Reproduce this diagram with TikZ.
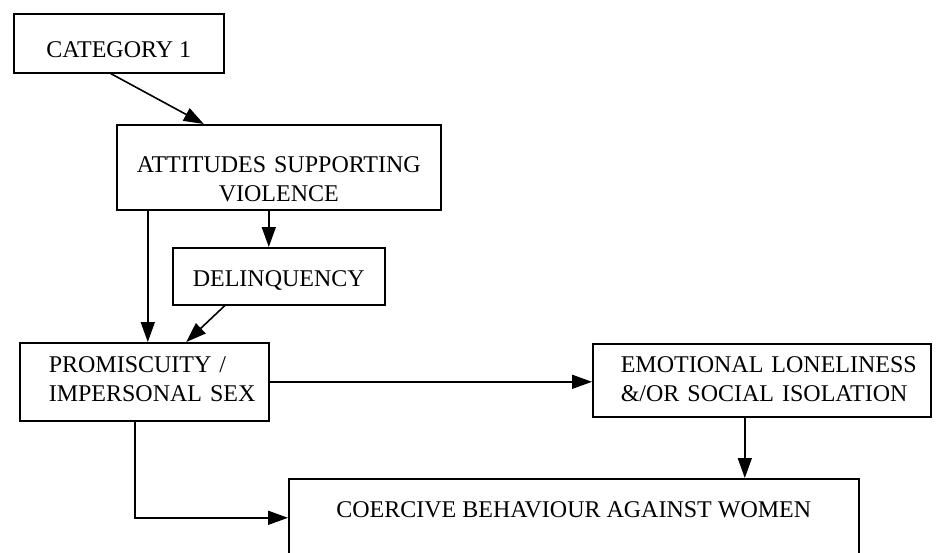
\documentclass[tikz,border=0pt]{standalone}
\usepackage{fontspec}
\setmainfont{Liberation Serif}
\usetikzlibrary{arrows.meta}

\begin{document}
\begin{tikzpicture}[x=1pt, y=-1pt, >={Triangle[length=20pt,width=14pt]},
    box/.style={draw, line width=1.6pt, anchor=north west, inner ysep=0pt,
                font=\fontsize{24}{29}\selectfont},
    link/.style={->, line width=1.6pt}]
    \clip (0,0) rectangle (944,552);

    \node[box, minimum width=210pt, text height=44pt, text depth=15pt] (cat) at (13,13) {CATEGORY 1};
    \node[box, minimum width=324pt, text width=300pt, align=center, text height=48pt, text depth=37pt]
        (att) at (116,124) {\mbox{ATTITUDES SUPPORTING}\\ VIOLENCE};
    \node[box, minimum width=212pt, text height=39pt, text depth=18pt] (del) at (172,247) {DELINQUENCY};
    \node[box, minimum width=249pt, text width=191pt, align=left, text height=30pt, text depth=48pt]
        (prom) at (19,342) {\mbox{PROMISCUITY /}\\ \mbox{IMPERSONAL SEX}};
    \node[box, minimum width=338pt, text width=282pt, align=left, text height=29pt, text depth=44pt]
        (emo) at (592,343) {\mbox{EMOTIONAL LONELINESS}\\ \mbox{\&/OR SOCIAL ISOLATION}};
    \node[box, minimum width=570pt, text height=39pt, text depth=100pt] (coe) at (288,478)
        {COERCIVE BEHAVIOUR AGAINST WOMEN};

    \draw[link] ([xshift=-8pt]cat.south) -- ([xshift=-75pt]att.north);
    \draw[link] ([xshift=-131pt]att.south) -- ([xshift=-131pt]att.south |- prom.north);
    \draw[link] ([xshift=-10pt]att.south) -- ([xshift=-10pt]att.south |- del.north);
    \draw[link] ([xshift=-54pt]del.south) -- ([xshift=42pt]prom.north);
    \draw[link] (prom.east) -- (prom.east -| emo.west);
    \draw[link] ([xshift=-17pt]emo.south) -- ([xshift=-17pt]emo.south |- coe.north);
    \draw[link] ([xshift=-9.5pt]prom.south) |- (coe.base west);
\end{tikzpicture}
\end{document}
